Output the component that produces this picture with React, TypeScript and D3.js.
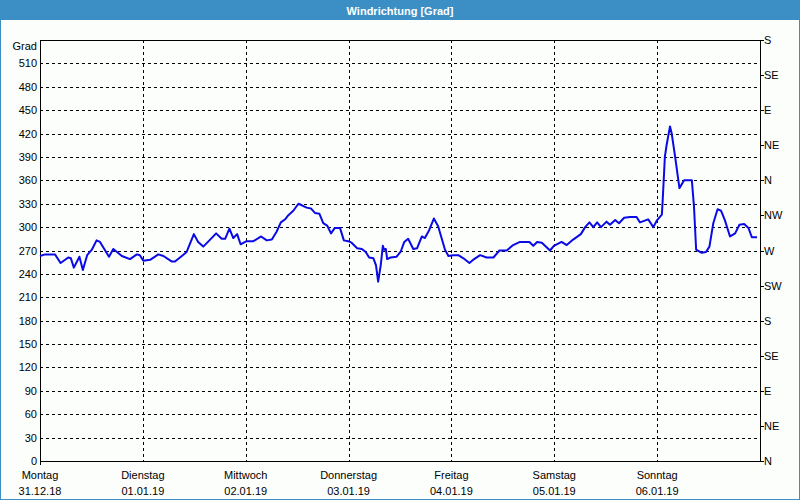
import React from "react";
import * as d3 from "d3";

const title = "Windrichtung [Grad]";
const dayNames = ["Montag", "Dienstag", "Mittwoch", "Donnerstag", "Freitag", "Samstag", "Sonntag"];
const dayDates = ["31.12.18", "01.01.19", "02.01.19", "03.01.19", "04.01.19", "05.01.19", "06.01.19"];
const leftTicks = [0, 30, 60, 90, 120, 150, 180, 210, 240, 270, 300, 330, 360, 390, 420, 450, 480, 510];
const rightTickValues = [0, 45, 90, 135, 180, 225, 270, 315, 360, 405, 450, 495, 540];
const rightTickLabels = ["N", "NE", "E", "SE", "S", "SW", "W", "NW", "N", "NE", "E", "SE", "S"];

// hours since Monday 00:00
const hours = [
  0, 1.2, 3.5, 4.8, 6.6, 7.2, 7.9, 9.2, 10.0, 11.0, 12.1, 13.2, 14.0, 16.1, 17.1, 19.1, 21.0, 22.6, 23.3,
  24.1, 25.7, 27.6, 28.8, 30.7, 31.5, 33.1, 34.2, 35.9, 36.9, 38.1, 39.7, 41.1, 42.4, 43.2, 44.2, 45.1, 46.0, 46.8,
  48.2, 49.8, 51.6, 52.9, 54.1, 55.2, 56.2, 57.2, 57.9, 59.1, 60.3, 61.1, 62.2, 63.2, 64.2, 65.2, 66.1, 67.0, 67.9,
  68.8, 70.0, 70.9, 71.9, 72.7, 74.0, 75.1, 76.0, 76.8, 77.8, 78.4, 78.9, 79.5, 80.0, 80.3, 80.7, 81.0, 81.8,
  83.2, 84.2, 85.0, 85.9, 87.1, 88.0, 89.1, 89.8, 90.8, 91.9, 92.9, 93.7, 94.5, 95.3, 96.4, 97.6, 98.8, 100.2,
  101.3, 102.7, 104.2, 105.8, 107.2, 108.9, 110.4, 112.0, 114.2, 115.1, 116.0, 117.1, 119.0, 119.9, 121.7, 122.9,
  124.4, 126.2, 127.2, 128.2, 129.1, 130.0, 130.9, 132.2, 133.0, 134.2, 135.1, 136.3, 137.7, 139.2, 140.0, 141.9,
  143.1, 144.0, 145.1, 145.3, 145.8, 146.2, 147.0, 147.4, 148.2, 149.2, 150.3, 152.1, 152.6, 153.1, 154.4, 155.4,
  156.2, 157.1, 158.1, 158.9, 159.8, 161.0, 162.2, 163.2, 164.3, 165.3, 166.1, 167.3,
];
const degrees = [
  263, 265, 265, 254, 261, 260, 248, 262, 245, 264, 271, 283, 281, 262, 272, 263, 259, 265, 264,
  257, 258, 265, 263, 256, 256, 263, 268, 291, 281, 275, 284, 292, 285, 285, 298, 286, 291, 278,
  282, 282, 288, 283, 284, 294, 306, 310, 315, 321, 330, 328, 325, 324, 318, 317, 305, 302, 292,
  299, 299, 283, 282, 280, 273, 272, 268, 261, 260, 251, 230, 251, 276, 271, 272, 259, 261,
  262, 269, 281, 285, 272, 273, 288, 286, 296, 311, 301, 286, 271, 263, 264, 264, 260, 254,
  259, 264, 261, 261, 270, 270, 277, 281, 281, 276, 281, 280, 270, 276, 281, 277,
  284, 291, 300, 306, 300, 306, 300, 307, 303, 309, 305, 312, 313, 313, 306, 310,
  300, 309, 316, 335, 390, 405, 429, 420, 390, 350, 360, 360, 326, 271, 267, 268,
  275, 305, 323, 321, 309, 288, 292, 303, 304, 299, 287, 287,
];

const W = 800;
const H = 500;
const left = 40;
const right = 760;
const top = 40;
const bottom = 461;
const blue = "#3b8fc4";
const font = "'Liberation Sans', Arial, sans-serif";

export default function App() {
  const x = d3.scaleLinear().domain([0, 168]).range([left, right]);
  const y = d3.scaleLinear().domain([0, 540]).range([bottom, top]);
  const pts: [number, number][] = hours.map((h, i) => [h, degrees[i]]);
  const line = d3
    .line<[number, number]>()
    .x((d) => x(d[0]))
    .y((d) => y(d[1]))
    .curve(d3.curveLinear);
  const dayTicks = d3.range(0, 7).map((i) => i * 24);

  return (
    <svg
      width={W}
      height={H}
      style={{ position: "fixed", left: 0, top: 0, display: "block" }}
      fontFamily={font}
    >
      <rect x={0} y={0} width={W} height={H} fill="#fcfefc" />
      <rect x={0.5} y={0.5} width={W - 1} height={H - 1} fill="none" stroke={blue} strokeWidth={1} />
      <rect x={0} y={0} width={W} height={20} fill={blue} />
      <text x={W / 2} y={14.5} textAnchor="middle" fill="#ffffff" fontSize={11} fontWeight="bold">
        {title}
      </text>

      {/* horizontal grid */}
      {leftTicks
        .filter((v) => v > 0)
        .map((v) => (
          <line
            key={"h" + v}
            x1={left}
            x2={right}
            y1={Math.round(y(v)) + 0.5}
            y2={Math.round(y(v)) + 0.5}
            stroke="#000"
            strokeWidth={1}
            strokeDasharray="3,3"
          />
        ))}
      {/* vertical grid */}
      {dayTicks
        .filter((h) => h > 0)
        .map((h) => (
          <line
            key={"v" + h}
            x1={Math.round(x(h)) + 0.5}
            x2={Math.round(x(h)) + 0.5}
            y1={top}
            y2={bottom}
            stroke="#000"
            strokeWidth={1}
            strokeDasharray="3,3"
          />
        ))}

      {/* frame */}
      <rect
        x={left + 0.5}
        y={top + 0.5}
        width={right - left}
        height={bottom - top}
        fill="none"
        stroke="#000"
        strokeWidth={1}
      />

      {/* left labels */}
      <text x={37} y={50} textAnchor="end" fontSize={11} fill="#000">
        Grad
      </text>
      {leftTicks.map((v) => (
        <text key={"l" + v} x={37} y={y(v) + 4} textAnchor="end" fontSize={11} fill="#000">
          {v}
        </text>
      ))}
      <line x1={left + 0.5} x2={left + 0.5} y1={bottom} y2={bottom + 4} stroke="#000" />

      {/* right ticks & labels */}
      {rightTickValues.map((v, i) => (
        <g key={"r" + i}>
          <line
            x1={right + 0.5}
            x2={right + 4}
            y1={Math.round(y(v)) + 0.5}
            y2={Math.round(y(v)) + 0.5}
            stroke="#000"
          />
          <text x={764} y={y(v) + 4} fontSize={11} fill="#000">
            {rightTickLabels[i]}
          </text>
        </g>
      ))}

      {/* bottom labels */}
      {dayTicks.map((h, i) => (
        <g key={"d" + i}>
          <text x={x(h)} y={479} textAnchor="middle" fontSize={11} fill="#000">
            {dayNames[i]}
          </text>
          <text x={x(h)} y={495} textAnchor="middle" fontSize={11} fill="#000">
            {dayDates[i]}
          </text>
        </g>
      ))}

      <path d={line(pts) || ""} fill="none" stroke="#0a0ae6" strokeWidth={2} strokeLinejoin="round" />
    </svg>
  );
}
